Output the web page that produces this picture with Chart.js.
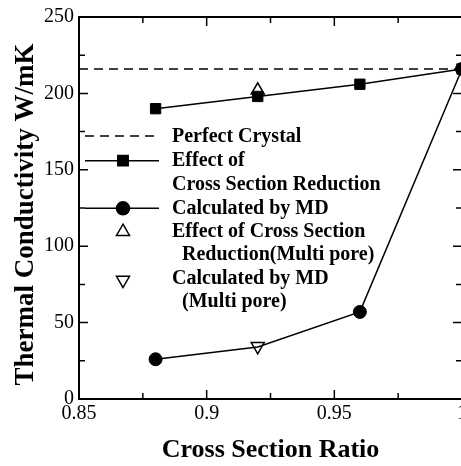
<!DOCTYPE html>
<html>
<head>
<meta charset="utf-8">
<script src="https://cdn.jsdelivr.net/npm/chart.js@4/dist/chart.umd.min.js"></script>
<style>
html,body{margin:0;padding:0;background:#fff;overflow:hidden;width:461px;height:466px;}
#wrap{position:absolute;left:0;top:0;width:480px;height:466px;}
</style>
</head>
<body>
<div id="wrap"><canvas id="c" width="480" height="466"></canvas></div>
<script>
// ---- data ----
const xTicks = [0.85, 0.9, 0.95, 1.0];
const xMinorTicks = [0.875, 0.925, 0.975];
const yTicks = [0, 50, 100, 150, 200, 250];
const yMinorTicks = [25, 75, 125, 175, 225];

const perfectX = [0.85, 1.0];
const perfectY = [216, 216];

const reductionX = [0.88, 0.92, 0.96, 1.0];
const reductionY = [190, 198, 206, 216];

const mdX = [0.88, 0.92, 0.96, 1.0];
const mdY = [26, 34, 57, 216];

const reductionMultiX = [0.92];
const reductionMultiY = [202];

const mdMultiX = [0.92];
const mdMultiY = [34.5];

const xTitle = 'Cross Section Ratio';
const yTitle = 'Thermal Conductivity W/mK';

const legendItems = [
  {type:'dash', lines:['Perfect Crystal']},
  {type:'rect', lines:['Effect of', 'Cross Section Reduction']},
  {type:'circle', lines:['Calculated by MD']},
  {type:'triUp', lines:['Effect of Cross Section', ' Reduction(Multi pore)']},
  {type:'triDown', lines:['Calculated by MD', ' (Multi pore)']}
];

function pts(xs, ys){ return xs.map((x,i)=>({x:x, y:ys[i]})); }

const SERIF = '"Liberation Serif", "Times New Roman", Times, serif';

const bgPlugin = {
  id:'bg',
  beforeDraw(chart){
    const ctx = chart.ctx;
    ctx.save(); ctx.fillStyle='#fff'; ctx.fillRect(0,0,chart.width,chart.height); ctx.restore();
  }
};

const framePlugin = {
  id:'frame',
  afterDatasetsDraw(chart){
    const ctx = chart.ctx, a = chart.chartArea;
    const xs = chart.scales.x, ys = chart.scales.y;
    ctx.save();
    ctx.strokeStyle='#000';
    ctx.lineWidth=1.5;
    function vt(v, len){
      const p = xs.getPixelForValue(v);
      ctx.beginPath();
      ctx.moveTo(p, a.bottom); ctx.lineTo(p, a.bottom-len);
      ctx.moveTo(p, a.top); ctx.lineTo(p, a.top+len);
      ctx.stroke();
    }
    function ht(v, len){
      const p = ys.getPixelForValue(v);
      ctx.beginPath();
      ctx.moveTo(a.left, p); ctx.lineTo(a.left+len, p);
      ctx.moveTo(a.right, p); ctx.lineTo(a.right-len, p);
      ctx.stroke();
    }
    xTicks.forEach(v=>vt(v,9));
    xMinorTicks.forEach(v=>vt(v,6));
    yTicks.forEach(v=>ht(v,9));
    yMinorTicks.forEach(v=>ht(v,6));
    ctx.lineWidth=2;
    ctx.strokeRect(a.left, a.top, a.right-a.left, a.bottom-a.top);

    // y title
    ctx.fillStyle='#000';
    ctx.font = 'bold 27px ' + SERIF;
    ctx.textAlign='center';
    ctx.textBaseline='middle';
    ctx.translate(26, 214.5);
    ctx.rotate(-Math.PI/2);
    ctx.fillText(yTitle, 0, 0);
    ctx.restore();

    // legend
    ctx.save();
    ctx.strokeStyle='#000'; ctx.fillStyle='#000';
    const x0 = 85, x1 = 159, mx = 123, tx = 172;
    const rows = [136.5, 161, 184.5, 208.5, 231.8, 255.3, 279, 302.3];
    const markY = [136, 160.7, 208.3, 231.7, 280];
    let r = 0;
    legendItems.forEach((it, i)=>{
      const y = markY[i];
      ctx.lineWidth = 1.5;
      if (it.type==='dash'){
        ctx.setLineDash([9,6]);
        ctx.beginPath(); ctx.moveTo(x0,y); ctx.lineTo(x1,y); ctx.stroke();
        ctx.setLineDash([]);
      } else if (it.type==='rect' || it.type==='circle'){
        ctx.beginPath(); ctx.moveTo(x0,y); ctx.lineTo(x1,y); ctx.stroke();
        Chart.helpers.drawPoint(ctx, {pointStyle: it.type, radius: it.type==='rect'?7.3:6.5, rotation:0, borderWidth:1}, mx, y);
        ctx.fill();
      } else {
        ctx.fillStyle='#fff';
        Chart.helpers.drawPoint(ctx, {pointStyle:'triangle', radius:7.5, rotation: it.type==='triDown'?180:0, borderWidth:1.5}, mx, y);
        ctx.fillStyle='#000';
      }
      ctx.font = 'bold 20px ' + SERIF;
      ctx.textAlign='left';
      ctx.textBaseline='middle';
      it.lines.forEach((ln)=>{
        const ind = ln.startsWith(' ') ? 10 : 0;
        ctx.fillText(ln.trim(), tx+ind, rows[r]);
        r++;
      });
    });
    ctx.restore();
  }
};

const lw = 1.5;
new Chart(document.getElementById('c'), {
  type:'scatter',
  data:{
    datasets:[
      {label:'Perfect Crystal', data:pts(perfectX, perfectY), showLine:true, borderColor:'#000', borderWidth:lw, borderDash:[9,6], pointRadius:0, clip:false},
      {label:'Effect of Cross Section Reduction', data:pts(reductionX, reductionY), showLine:true, borderColor:'#000', backgroundColor:'#000', borderWidth:lw, pointStyle:'rect', pointRadius:7.3, pointBorderWidth:1, clip:false},
      {label:'Calculated by MD', data:pts(mdX, mdY), showLine:true, borderColor:'#000', backgroundColor:'#000', borderWidth:lw, pointStyle:'circle', pointRadius:[6.5,0,6.5,6.5], pointBorderWidth:1, clip:false},
      {label:'Effect of Cross Section Reduction(Multi pore)', data:pts(reductionMultiX, reductionMultiY), showLine:false, borderColor:'#000', backgroundColor:'#fff', pointStyle:'triangle', pointRadius:7.5, pointBorderWidth:1.5, clip:false},
      {label:'Calculated by MD (Multi pore)', data:pts(mdMultiX, mdMultiY), showLine:false, borderColor:'#000', backgroundColor:'#fff', pointStyle:'triangle', rotation:180, pointRotation:180, pointRadius:7.5, pointBorderWidth:1.5, clip:false}
    ]
  },
  options:{
    responsive:false,
    animation:false,
    events:[],
    layout:{padding:{top:17, right:18, left:0, bottom:0}},
    plugins:{legend:{display:false}, tooltip:{enabled:false}},
    scales:{
      x:{
        type:'linear', min:0.85, max:1.0,
        afterBuildTicks(s){ s.ticks = xTicks.map(v=>({value:v})); },
        afterFit(s){ s.height = 67; },
        grid:{display:false, drawTicks:false},
        border:{display:false},
        ticks:{color:'#000', font:{family:SERIF, size:20}, padding:3, maxRotation:0,
          callback:(v)=>String(Math.round(v*100)/100)},
        title:{display:true, text:xTitle, color:'#000', font:{family:SERIF, size:26, weight:'bold'}, padding:{top:0,bottom:0}}
      },
      y:{
        type:'linear', min:0, max:250,
        afterBuildTicks(s){ s.ticks = yTicks.map(v=>({value:v})); },
        afterFit(s){ s.width = 79; },
        grid:{display:false, drawTicks:false},
        border:{display:false},
        ticks:{color:'#000', font:{family:SERIF, size:20}, padding:5},
        title:{display:false}
      }
    }
  },
  plugins:[bgPlugin, framePlugin]
});
</script>
</body>
</html>
